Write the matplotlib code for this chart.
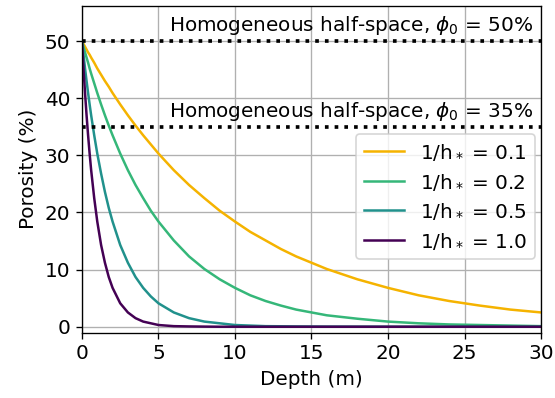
import numpy as np
import matplotlib
matplotlib.use("Agg")
import matplotlib.pyplot as plt

# depth samples (m) and porosity (%)
depth = [0, 0.1, 0.2, 0.3, 0.4, 0.5, 0.6, 0.8, 1.0, 1.25, 1.5, 1.75, 2, 2.5,
         3, 3.5, 4, 4.5, 5, 6, 7, 8, 9, 10, 11, 12, 13, 14, 16, 18, 20, 22,
         24, 26, 28, 30]
por_01 = [50.0, 49.5, 49.0, 48.5, 48.0, 47.6, 47.1, 46.2, 45.2, 44.1, 43.0,
          42.0, 40.9, 38.9, 37.0, 35.2, 33.5, 31.9, 30.3, 27.4, 24.8, 22.5,
          20.3, 18.4, 16.6, 15.1, 13.6, 12.3, 10.1, 8.3, 6.8, 5.5, 4.5, 3.7,
          3.0, 2.5]
por_02 = [50.0, 49.0, 48.0, 47.1, 46.2, 45.2, 44.3, 42.6, 40.9, 38.9, 37.0,
          35.2, 33.5, 30.3, 27.4, 24.8, 22.5, 20.3, 18.4, 15.1, 12.3, 10.1,
          8.3, 6.8, 5.5, 4.5, 3.7, 3.0, 2.0, 1.4, 0.9, 0.6, 0.4, 0.3,
          0.2, 0.1]
por_05 = [50.0, 47.6, 45.2, 43.0, 40.9, 38.9, 37.0, 33.5, 30.3, 26.8, 23.6,
          20.8, 18.4, 14.3, 11.2, 8.7, 6.8, 5.3, 4.1, 2.5, 1.5, 0.9,
          0.6, 0.3, 0.2, 0.1, 0.08, 0.05, 0.02, 0.01, 0.0, 0.0, 0.0, 0.0,
          0.0, 0.0]
por_10 = [50.0, 45.2, 40.9, 37.0, 33.5, 30.3, 27.4, 22.5, 18.4, 14.3, 11.2,
          8.7, 6.8, 4.1, 2.5, 1.5, 0.9, 0.6, 0.3, 0.1, 0.05, 0.02,
          0.0, 0.0, 0.0, 0.0, 0.0, 0.0, 0.0, 0.0, 0.0, 0.0, 0.0, 0.0,
          0.0, 0.0]
labels = ["1/h$_*$ = 0.1", "1/h$_*$ = 0.2", "1/h$_*$ = 0.5", "1/h$_*$ = 1.0"]
colors = ['#f5b300', '#35b779', '#21918c', '#440154']
half_space = [50, 35]

fig = plt.figure(figsize=(555 / 120, 398 / 120), dpi=120)
ax = fig.add_axes([0.1477, 0.164, 0.8271, 0.822])

for dphi in half_space:
    ax.axhline(dphi, color='black', linestyle=':', linewidth=2.2, zorder=3)
    ax.text(29.5, dphi + 0.7, r"Homogeneous half-space, $\phi_0$ = %d%%" % dphi,
            ha='right', va='bottom', fontsize=12, zorder=4)

for series, lab, c in zip([por_01, por_02, por_05, por_10], labels, colors):
    ax.plot(depth, series, color=c, linewidth=1.5, label=lab, zorder=2)

ax.set_xlim(0, 30)
ax.set_ylim(-1.05, 56.2)
ax.set_xticks([0, 5, 10, 15, 20, 25, 30])
ax.set_yticks([0, 10, 20, 30, 40, 50])
ax.tick_params(labelsize=12)
ax.grid(True, color='#b0b0b0', linewidth=0.8)
ax.set_xlabel("Depth (m)", fontsize=12)
ax.set_ylabel("Porosity (%)", fontsize=12)
ax.legend(loc='upper right', bbox_to_anchor=(1.0, 0.625), fontsize=12,
          borderaxespad=0.3)

fig.savefig("out.png", dpi=120)
